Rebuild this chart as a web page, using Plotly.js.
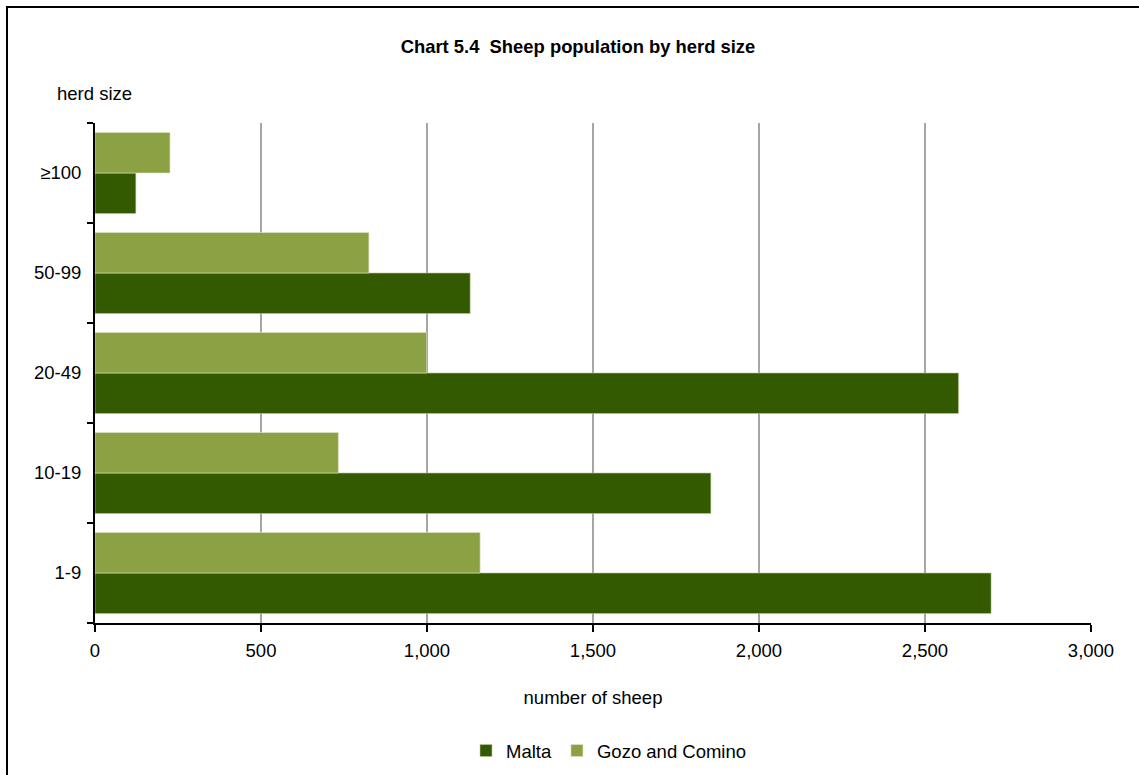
<!DOCTYPE html>
<html>
<head>
<meta charset="utf-8">
<script src="https://cdn.plot.ly/plotly-3.0.1.min.js"></script>
<style>
  html, body { margin: 0; padding: 0; background: #fff; }
  #wrap { position: relative; width: 1139px; height: 775px; overflow: hidden; }
  #chart { width: 1139px; height: 775px; }
  #frame { position: absolute; left: 6px; top: 6px; width: 1200px; height: 900px;
           border: 2px solid #000; pointer-events: none; box-sizing: border-box; }
</style>
</head>
<body>
<div id="wrap">
  <div id="chart"></div>
  <div id="frame"></div>
</div>
<script>
const categories = ['1-9', '10-19', '20-49', '50-99', '≥100'];
const maltaValues = [2699, 1855, 2601, 1130, 123];
const gozoValues = [1160, 733, 999, 825, 226];
const xTickValues = [0, 500, 1000, 1500, 2000, 2500, 3000];
const xTickLabels = ['0', '500', '1,000', '1,500', '2,000', '2,500', '3,000'];

const FONT = '"Liberation Sans", Arial, sans-serif';
const FS = 18.5;

const traces = [
  {
    type: 'bar', orientation: 'h', name: 'Malta',
    y: categories, x: maltaValues,
    marker: { color: '#335a00', line: { color: '#b9c99a', width: 0.6 } },
    hoverinfo: 'x+y+name'
  },
  {
    type: 'bar', orientation: 'h', name: 'Gozo and Comino',
    y: categories, x: gozoValues,
    marker: { color: '#8ca143', line: { color: '#dfe8c8', width: 0.6 } },
    hoverinfo: 'x+y+name'
  }
];

const layout = {
  width: 1139, height: 775,
  paper_bgcolor: '#ffffff', plot_bgcolor: '#ffffff',
  margin: { l: 95, r: 48, t: 123, b: 152, pad: 0, autoexpand: false },
  font: { family: FONT, size: FS, color: '#000' },
  title: {
    text: '<b>Chart 5.4  Sheep population by herd size</b>',
    font: { family: FONT, size: 18.4, color: '#000' },
    x: 578 / 1139, xanchor: 'center', y: 1 - 47 / 775, yanchor: 'middle'
  },
  barmode: 'group',
  bargap: 0.19,
  bargroupgap: 0,
  showlegend: true,
  legend: {
    orientation: 'h', xref: 'paper', x: (609 - 95) / 996, xanchor: 'center',
    yref: 'container', y: 1 - 751 / 775, yanchor: 'middle',
    font: { family: FONT, size: FS, color: '#000' },
    traceorder: 'normal', itemwidth: 30, tracegroupgap: 0
  },
  xaxis: {
    range: [0, 3000], tickvals: xTickValues, ticktext: xTickLabels,
    automargin: false,
    showgrid: true, gridcolor: '#a6a6a6', gridwidth: 2,
    zeroline: false, showline: true, linecolor: '#000', linewidth: 2,
    ticks: 'outside', ticklen: 7, tickwidth: 2, tickcolor: '#000',
    tickfont: { family: FONT, size: FS, color: '#000' },
    ticklabelstandoff: 3,
    title: { text: 'number of sheep', font: { family: FONT, size: FS, color: '#000' }, standoff: 31 },
    fixedrange: true
  },
  yaxis: {
    type: 'category', categoryorder: 'array', categoryarray: categories,
    automargin: false,
    showgrid: false, zeroline: false, showline: true, linecolor: '#000', linewidth: 2,
    ticks: 'outside', tickson: 'boundaries', ticklen: 6, tickwidth: 2, tickcolor: '#000',
    tickfont: { family: FONT, size: FS, color: '#000' },
    ticklabelstandoff: 8,
    fixedrange: true
  },
  annotations: [
    {
      text: 'herd size', xref: 'paper', yref: 'paper',
      x: (55 - 95) / 996, y: (623 - 94) / 500, xanchor: 'left', yanchor: 'middle',
      showarrow: false, font: { family: FONT, size: FS, color: '#000' }
    }
  ]
};

Plotly.newPlot('chart', traces, layout, { displayModeBar: false, staticPlot: true });
</script>
</body>
</html>
